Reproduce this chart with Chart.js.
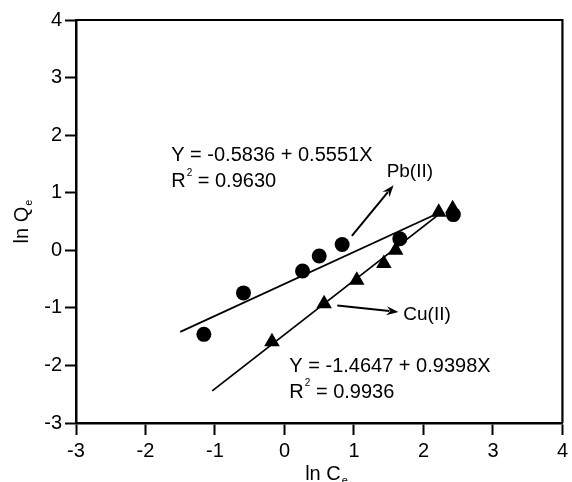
<!DOCTYPE html>
<html>
<head>
<meta charset="utf-8">
<script src="https://cdn.jsdelivr.net/npm/chart.js@4/dist/chart.umd.min.js"></script>
<style>
  html, body { margin: 0; padding: 0; background: #fff; }
  canvas { display: block; }
</style>
</head>
<body>
<canvas id="chart" width="572" height="482"></canvas>
<script>
// Freundlich isotherm: ln Qe versus ln Ce for Pb(II) and Cu(II)
const xTicks = [-3, -2, -1, 0, 1, 2, 3, 4];
const yTicks = [-3, -2, -1, 0, 1, 2, 3, 4];

const pbLnCe = [-1.16, -0.59, 0.26, 0.50, 0.83, 1.66, 2.43];
const pbLnQe = [-1.46, -0.74, -0.36, -0.10, 0.10, 0.20, 0.62];

const cuLnCe = [-0.18, 0.57, 1.04, 1.43, 1.60, 2.22, 2.42];
const cuLnQe = [-1.59, -0.93, -0.52, -0.23, 0.00, 0.66, 0.72];

// Fitted lines: Y = a + bX, drawn over these x ranges
const pbFit = { a: -0.5836, b: 0.5551, r2: 0.9630, from: -1.5, to: 2.25 };
const cuFit = { a: -1.4647, b: 0.9398, r2: 0.9936, from: -1.04, to: 2.25 };

// Arrow annotations (start and tip, data units) and label anchors
const pbArrow = [[0.97, 0.25], [1.57, 1.13]];
const cuArrow = [[0.76, -0.96], [1.64, -1.07]];
const pbLabel = { x: 1.47, y: 1.36, text: 'Pb(II)' };
const cuLabel = { x: 1.71, y: -1.12, text: 'Cu(II)' };
const pbEqPos = { x: -1.63, y: 1.64 };
const cuEqPos = { x: 0.07, y: -2.02 };

const FONT = '"Liberation Sans", Arial, Helvetica, sans-serif';

function toPoints(xs, ys) { return xs.map((x, i) => ({ x: x, y: ys[i] })); }
function fitPoints(f) {
  return [{ x: f.from, y: f.a + f.b * f.from }, { x: f.to, y: f.a + f.b * f.to }];
}
function eqText(f) {
  return 'Y = ' + f.a.toFixed(4) + ' + ' + f.b.toFixed(4) + 'X';
}

const annotations = {
  id: 'annotations',
  afterDraw(chart) {
    const ctx = chart.ctx;
    const xs = chart.scales.x, ys = chart.scales.y;
    const area = chart.chartArea;
    const px = v => xs.getPixelForValue(v);
    const py = v => ys.getPixelForValue(v);
    ctx.save();

    // top and right frame lines
    ctx.strokeStyle = '#000';
    ctx.lineWidth = 2.2;
    ctx.beginPath();
    ctx.moveTo(area.left, area.top);
    ctx.lineTo(area.right, area.top);
    ctx.lineTo(area.right, area.bottom);
    ctx.stroke();

    // arrows
    function arrow(seg) {
      const x0 = px(seg[0][0]), y0 = py(seg[0][1]);
      const x1 = px(seg[1][0]), y1 = py(seg[1][1]);
      const ang = Math.atan2(y1 - y0, x1 - x0);
      const len = 12, half = 4.5;
      const bx = x1 - Math.cos(ang) * len, by = y1 - Math.sin(ang) * len;
      ctx.strokeStyle = '#000';
      ctx.lineWidth = 2;
      ctx.beginPath();
      ctx.moveTo(x0, y0);
      ctx.lineTo(bx + Math.cos(ang) * 3, by + Math.sin(ang) * 3);
      ctx.stroke();
      ctx.fillStyle = '#000';
      ctx.beginPath();
      ctx.moveTo(x1, y1);
      ctx.lineTo(bx - Math.sin(ang) * half, by + Math.cos(ang) * half);
      ctx.lineTo(bx + Math.cos(ang) * 4, by + Math.sin(ang) * 4);
      ctx.lineTo(bx + Math.sin(ang) * half, by - Math.cos(ang) * half);
      ctx.closePath();
      ctx.fill();
    }
    arrow(pbArrow);
    arrow(cuArrow);

    ctx.fillStyle = '#000';
    ctx.textBaseline = 'middle';
    ctx.textAlign = 'left';
    ctx.font = '19px ' + FONT;
    ctx.fillText(pbLabel.text, px(pbLabel.x), py(pbLabel.y));
    ctx.fillText(cuLabel.text, px(cuLabel.x), py(cuLabel.y));

    // regression equations with R squared
    function equation(f, pos) {
      const x = px(pos.x), y = py(pos.y);
      ctx.font = '20px ' + FONT;
      ctx.fillText(eqText(f), x, y);
      const y2 = y + 26;
      ctx.fillText('R', x, y2);
      const rw = ctx.measureText('R').width;
      ctx.font = '10px ' + FONT;
      ctx.fillText('2', x + rw + 1, y2 - 9);
      const sw = ctx.measureText('2').width;
      ctx.font = '20px ' + FONT;
      ctx.fillText(' = ' + f.r2.toFixed(4), x + rw + sw + 1, y2);
    }
    equation(pbFit, pbEqPos);
    equation(cuFit, cuEqPos);

    // axis titles with subscript e
    function title(main, sub, cx, cy, rot) {
      ctx.save();
      ctx.translate(cx, cy);
      ctx.rotate(rot);
      ctx.font = '20px ' + FONT;
      const mw = ctx.measureText(main).width;
      ctx.font = '11px ' + FONT;
      const sw = ctx.measureText(sub).width;
      const start = -(mw + sw) / 2;
      ctx.textAlign = 'left';
      ctx.textBaseline = 'alphabetic';
      ctx.font = '20px ' + FONT;
      ctx.fillText(main, start, 7);
      ctx.font = '11px ' + FONT;
      ctx.fillText(sub, start + mw + 1, 11);
      ctx.restore();
    }
    title('ln Q', 'e', 21, 222, -Math.PI / 2);
    title('ln C', 'e', 326, 473, 0);

    ctx.restore();
  }
};

new Chart(document.getElementById('chart'), {
  type: 'scatter',
  data: {
    datasets: [
      {
        label: 'Pb(II)',
        data: toPoints(pbLnCe, pbLnQe),
        pointStyle: 'circle',
        pointRadius: 7.5,
        backgroundColor: '#000',
        borderColor: '#000',
        borderWidth: 0,
        order: 1
      },
      {
        label: 'Cu(II)',
        data: toPoints(cuLnCe, cuLnQe),
        pointStyle: 'triangle',
        pointRadius: 9,
        backgroundColor: '#000',
        borderColor: '#000',
        borderWidth: 0,
        order: 1
      },
      {
        label: 'Pb(II) fit',
        data: fitPoints(pbFit),
        showLine: true,
        pointRadius: 0,
        borderColor: '#000',
        borderWidth: 1.8,
        fill: false,
        order: 2
      },
      {
        label: 'Cu(II) fit',
        data: fitPoints(cuFit),
        showLine: true,
        pointRadius: 0,
        borderColor: '#000',
        borderWidth: 1.8,
        fill: false,
        order: 2
      }
    ]
  },
  options: {
    responsive: false,
    animation: false,
    devicePixelRatio: 1,
    layout: { padding: { left: 0, top: 20, right: 6, bottom: 0 } },
    plugins: {
      legend: { display: false },
      tooltip: { enabled: false },
      title: { display: false }
    },
    scales: {
      x: {
        type: 'linear',
        min: xTicks[0],
        max: xTicks[xTicks.length - 1],
        afterBuildTicks: s => { s.ticks = xTicks.map(v => ({ value: v })); },
        afterFit: s => { s.height = 59; },
        ticks: { color: '#000', font: { size: 20, family: FONT }, padding: 4 },
        grid: { drawOnChartArea: false, drawTicks: true, tickLength: 12, tickColor: '#000', tickWidth: 2 },
        border: { display: true, color: '#000', width: 2.5 }
      },
      y: {
        type: 'linear',
        min: yTicks[0],
        max: yTicks[yTicks.length - 1],
        afterBuildTicks: s => { s.ticks = yTicks.map(v => ({ value: v })); },
        afterFit: s => { s.width = 76; },
        ticks: { color: '#000', font: { size: 20, family: FONT }, padding: 3 },
        grid: { drawOnChartArea: false, drawTicks: true, tickLength: 11, tickColor: '#000', tickWidth: 2 },
        border: { display: true, color: '#000', width: 2.5 }
      }
    }
  },
  plugins: [annotations]
});
</script>
</body>
</html>
